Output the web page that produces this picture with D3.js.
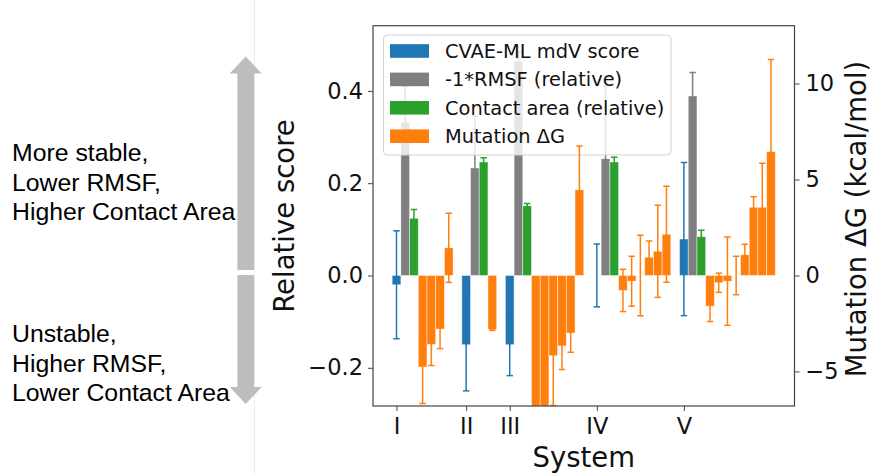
<!DOCTYPE html>
<html>
<head>
<meta charset="UTF-8">
<script src="https://cdn.jsdelivr.net/npm/d3@7"></script>
<style>
    body { margin: 0; background: white; }
    svg { display: block; }
</style>
</head>
<body>
<div id="chart"></div>
<script>
    // values
    const systems = ["I", "II", "III", "IV", "V"];
    const mdvScore = [-0.020, -0.150, -0.150, 0.000, 0.079];
    const mdvErr = [0.117, 0.100, 0.067, 0.068, 0.166];
    const rmsf = [0.332, 0.233, 0.465, 0.253, 0.389];
    const rmsfErr = [0.078, 0.112, 0.020, 0.157, 0.051];
    const contact = [0.124, 0.246, 0.151, 0.246, 0.084];
    const contactErr = [0.019, 0.009, 0.005, 0.010, 0.014];
    // mutation dG (kcal/mol), one list per system
    const mutDG = [
        [-4.77, -3.59, -2.79, 1.44],
        [-2.81],
        [-8.0, -7.6, -4.18, -3.67, -3.00, 4.46],
        [-0.78, -0.30, 0.00, 0.95, 1.26, 2.15],
        [-1.60, -0.38, -0.30, 0.00, 1.08, 3.55, 3.55, 6.45]
    ];
    const mutErr = [
        [1.90, 1.10, 1.02, 1.80],
        [0.05],
        [1.5, 1.5, 2.60, 1.23, 1.00, 2.28],
        [1.10, 1.30, 2.10, 0.85, 2.40, 2.50],
        [0.80, 0.50, 2.30, 1.00, 0.54, 0.55, 2.30, 4.80]
    ];
    const seriesNames = ["CVAE-ML mdV score", "-1*RMSF (relative)", "Contact area (relative)", "Mutation \u0394G"];
    const leftTicks = [-0.2, 0.0, 0.2, 0.4];
    const rightTicks = [-5, 0, 5, 10];

    const colors = {
        blue: '#1f77b4',
        gray: '#7f7f7f',
        green: '#2ca02c',
        orange: '#ff7f0e'
    };

    const w = 873, h = 474;
    const pLeft = 373, pRight = 794.5, pTop = 25.7, pBottom = 406;

    // slot layout: 3 score bars, then the mutations, then one empty slot
    const bars = [];
    const tickSlots = [];
    let start = 0;
    systems.forEach((s, i) => {
        tickSlots.push(start);
        bars.push({slot: start, v: mdvScore[i], e: mdvErr[i], c: colors.blue, ax: 'L'});
        bars.push({slot: start + 1, v: rmsf[i], e: rmsfErr[i], c: colors.gray, ax: 'L'});
        bars.push({slot: start + 2, v: contact[i], e: contactErr[i], c: colors.green, ax: 'L'});
        mutDG[i].forEach((v, j) => {
            bars.push({slot: start + 3 + j, v: v, e: mutErr[i][j], c: colors.orange, ax: 'R'});
        });
        start += 3 + mutDG[i].length + 1;
    });

    const x = d3.scaleLinear().domain([-2.7, 45.7]).range([pLeft, pRight]);
    const yL = d3.scaleLinear().domain([-0.2828, 0.5413]).range([pBottom, pTop]);
    const yR = d3.scaleLinear().domain([-6.8, 13.01]).range([pBottom, pTop]);

    const svg = d3.select('#chart').append('svg')
        .attr('width', w)
        .attr('height', h);

    svg.append('rect').attr('width', w).attr('height', h).attr('fill', 'white');

    // faint divider line
    svg.append('line')
        .attr('x1', 254.5).attr('x2', 254.5)
        .attr('y1', 0).attr('y2', h)
        .attr('stroke', '#ececec')
        .attr('stroke-width', 1);

    // double arrow on the left
    const arrowColor = '#bfbcbc';
    const ax = 245.7;
    svg.append('path')
        .attr('d', `M${ax},56.5 L${ax + 16},73.5 L${ax + 8.3},73.5 L${ax + 8.3},270 L${ax - 8.3},270 L${ax - 8.3},73.5 L${ax - 16},73.5 Z`)
        .attr('fill', arrowColor);
    svg.append('path')
        .attr('d', `M${ax},404 L${ax + 16},387 L${ax + 8.3},387 L${ax + 8.3},275 L${ax - 8.3},275 L${ax - 8.3},387 L${ax - 16},387 Z`)
        .attr('fill', arrowColor);

    const noteTop = ["More stable,", "Lower RMSF,", "Higher Contact Area"];
    const noteBottom = ["Unstable,", "Higher RMSF,", "Lower Contact Area"];
    [[noteTop, 161], [noteBottom, 342]].forEach(([lines, y0]) => {
        lines.forEach((t, i) => {
            svg.append('text')
                .attr('x', 12)
                .attr('y', y0 + i * 29.5)
                .attr('font-family', 'Liberation Sans, Arial, sans-serif')
                .attr('font-size', 24.8)
                .attr('fill', 'black')
                .text(t);
        });
    });

    svg.append('clipPath').attr('id', 'plotclip')
        .append('rect')
        .attr('x', pLeft).attr('y', pTop)
        .attr('width', pRight - pLeft).attr('height', pBottom - pTop);

    function drawBars(g, data) {
        g.selectAll('rect.bar')
            .data(data)
            .enter()
            .append('rect')
            .attr('class', 'bar')
            .attr('x', d => x(d.slot - 0.5))
            .attr('width', d => x(d.slot + 0.5) - x(d.slot - 0.5))
            .attr('y', d => {
                const ys = d.ax === 'L' ? yL : yR;
                return Math.min(ys(d.v), ys(0));
            })
            .attr('height', d => {
                const ys = d.ax === 'L' ? yL : yR;
                return Math.abs(ys(d.v) - ys(0));
            })
            .attr('fill', d => d.c)
            .attr('stroke', 'white')
            .attr('stroke-opacity', 0.55)
            .attr('stroke-width', 0.8);

        const eb = g.selectAll('g.err')
            .data(data)
            .enter()
            .append('g')
            .attr('class', 'err')
            .attr('stroke', d => d.c)
            .attr('stroke-width', 1.5);
        eb.append('line')
            .attr('x1', d => x(d.slot)).attr('x2', d => x(d.slot))
            .attr('y1', d => (d.ax === 'L' ? yL : yR)(d.v - d.e))
            .attr('y2', d => (d.ax === 'L' ? yL : yR)(d.v + d.e));
        [-1, 1].forEach(s => {
            eb.append('line')
                .attr('x1', d => x(d.slot) - 3.2).attr('x2', d => x(d.slot) + 3.2)
                .attr('y1', d => (d.ax === 'L' ? yL : yR)(d.v + s * d.e))
                .attr('y2', d => (d.ax === 'L' ? yL : yR)(d.v + s * d.e));
        });
    }

    const gL = svg.append('g').attr('clip-path', 'url(#plotclip)');
    drawBars(gL, bars.filter(d => d.ax === 'L'));

    // legend (sits under the orange bars of the twin axis)
    const legend = svg.append('g').attr('id', 'legend');
    legend.append('rect')
        .attr('x', 383.5).attr('y', 35)
        .attr('width', 287.5).attr('height', 120)
        .attr('rx', 4)
        .attr('fill', 'white')
        .attr('fill-opacity', 0.8)
        .attr('stroke', '#d4d4d4')
        .attr('stroke-width', 1);
    const legendColors = [colors.blue, colors.gray, colors.green, colors.orange];
    seriesNames.forEach((name, i) => {
        const cy = 51 + i * 28.4;
        legend.append('rect')
            .attr('x', 390).attr('y', cy - 6.8)
            .attr('width', 39).attr('height', 13.6)
            .attr('fill', legendColors[i]);
        legend.append('text')
            .attr('x', 445).attr('y', cy)
            .attr('dy', '0.36em')
            .attr('font-family', 'DejaVu Sans, sans-serif')
            .attr('font-size', 19.4)
            .attr('fill', '#111')
            .text(name);
    });

    const gR = svg.append('g').attr('clip-path', 'url(#plotclip)');
    drawBars(gR, bars.filter(d => d.ax === 'R'));

    // axes
    const tickFont = g => {
        g.select('.domain').remove();
        g.selectAll('line').attr('stroke', '#444').attr('stroke-width', 1);
        g.selectAll('text')
            .attr('font-family', 'DejaVu Sans, sans-serif')
            .attr('font-size', 22.5)
            .attr('fill', '#111');
    };

    svg.append('g')
        .attr('transform', `translate(${pLeft},0)`)
        .call(d3.axisLeft(yL).tickValues(leftTicks).tickFormat(d3.format('.1f')).tickSize(5).tickPadding(5))
        .call(tickFont);

    svg.append('g')
        .attr('transform', `translate(${pRight},0)`)
        .call(d3.axisRight(yR).tickValues(rightTicks).tickFormat(d3.format('d')).tickSize(5).tickPadding(6))
        .call(tickFont);

    svg.append('g')
        .attr('transform', `translate(0,${pBottom})`)
        .call(d3.axisBottom(x).tickValues(tickSlots).tickFormat((d, i) => systems[i]).tickSize(5).tickPadding(7))
        .call(tickFont);

    svg.append('rect')
        .attr('x', pLeft).attr('y', pTop)
        .attr('width', pRight - pLeft).attr('height', pBottom - pTop)
        .attr('fill', 'none')
        .attr('stroke', '#444')
        .attr('stroke-width', 1.2);

    const labelFont = sel => sel
        .attr('font-family', 'DejaVu Sans, sans-serif')
        .attr('font-size', 27.5)
        .attr('fill', '#111')
        .attr('text-anchor', 'middle');

    svg.append('text')
        .attr('x', (pLeft + pRight) / 2).attr('y', 467)
        .call(labelFont)
        .text('System');

    svg.append('text')
        .attr('transform', `translate(294,216) rotate(-90)`)
        .call(labelFont)
        .text('Relative score');

    svg.append('text')
        .attr('transform', `translate(866,219) rotate(-90)`)
        .call(labelFont)
        .text('Mutation \u0394G (kcal/mol)');
</script>
</body>
</html>
